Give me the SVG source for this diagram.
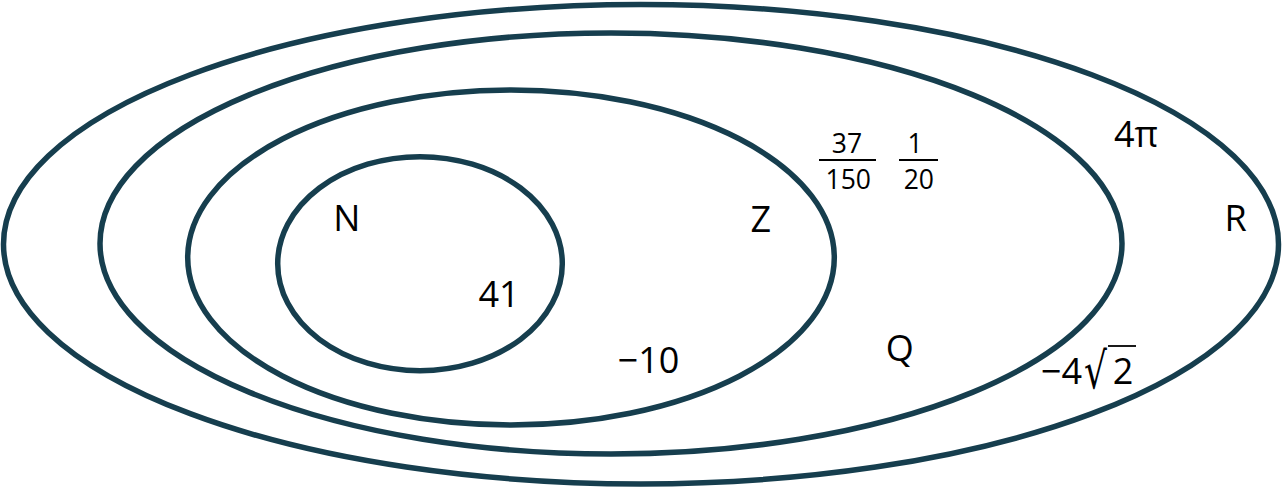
<svg xmlns="http://www.w3.org/2000/svg" width="1282" height="489" viewBox="0 0 1282 489">
<style>
.set{fill:none;stroke:#163e4e;stroke-width:5.5}
.t{font-family:"Open Sans","Noto Sans","DejaVu Sans",sans-serif;font-size:36px;fill:#000;text-anchor:middle}
.f{font-family:"Open Sans","Noto Sans","DejaVu Sans",sans-serif;font-size:26.5px;fill:#000;text-anchor:middle}
.rad{font-family:"DejaVu Sans",sans-serif;font-size:50px;fill:#000}
.bar{stroke:#000;stroke-width:1.8}
</style>
<rect width="1282" height="489" fill="#fff"/>
<g id="R">
<ellipse class="set" cx="641" cy="244.2" rx="637.5" ry="239.7"/>
<text class="t" x="1235.5" y="231">R</text>
<text class="t" x="1136" y="147">4π</text>
<g id="neg4sqrt2">
<text class="t" x="1082" y="384" style="text-anchor:end">−4</text>
<text class="rad" transform="translate(1084,388) scale(0.72,1)">√</text>
<line class="bar" x1="1108" y1="346" x2="1136" y2="346"/>
<text class="t" x="1123" y="384">2</text>
</g>
</g>
<g id="Q">
<ellipse class="set" cx="611" cy="243.5" rx="511" ry="210.5"/>
<text class="t" x="899.7" y="361">Q</text>
<g id="frac37_150">
<text class="f" x="847" y="153">37</text>
<line class="bar" x1="819" y1="160" x2="876" y2="160"/>
<text class="f" x="848.3" y="188.5">150</text>
</g>
<g id="frac1_20">
<text class="f" x="915" y="153">1</text>
<line class="bar" x1="899" y1="160" x2="938" y2="160"/>
<text class="f" x="918.8" y="188.5">20</text>
</g>
</g>
<g id="Z">
<ellipse class="set" cx="511" cy="257.5" rx="323.3" ry="167.5"/>
<text class="t" x="760.7" y="231.5">Z</text>
<text class="t" x="648.5" y="372.5">−10</text>
</g>
<g id="N">
<ellipse class="set" cx="420" cy="263.7" rx="142.3" ry="107"/>
<text class="t" x="346.7" y="231">N</text>
<text class="t" x="499" y="307">41</text>
</g>
<g id="connectors"/>
</svg>
